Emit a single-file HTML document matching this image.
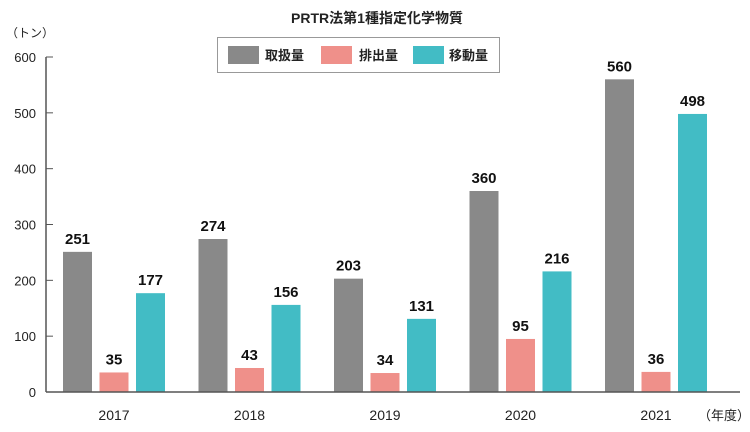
<!DOCTYPE html>
<html><head><meta charset="utf-8"><style>
html,body{margin:0;padding:0;background:#fff;}
svg{display:block;font-family:"Liberation Sans","Noto Sans CJK JP",sans-serif;}
</style></head><body>
<svg id="chart" width="750" height="432" viewBox="0 0 750 432">
<text x="377" y="23" text-anchor="middle" font-size="14" font-weight="bold" fill="#222">PRTR法第1種指定化学物質</text>
<text x="6" y="37" font-size="12" fill="#222">（トン）</text>
<text x="698" y="420" font-size="13" fill="#222">（年度）</text>
<g>
<rect x="217.5" y="37.5" width="282" height="35" fill="#fff" stroke="#999"/>
<rect x="228" y="46" width="31" height="18" fill="#898989"/>
<text x="265" y="60" font-size="13" font-weight="bold" fill="#222">取扱量</text>
<rect x="321" y="46" width="31" height="18" fill="#ef908a"/>
<text x="359" y="60" font-size="13" font-weight="bold" fill="#222">排出量</text>
<rect x="413" y="46" width="31" height="18" fill="#42bcc5"/>
<text x="449" y="60" font-size="13" font-weight="bold" fill="#222">移動量</text>
</g>
<g id="plot"></g>
</svg>
<script>
const categories = ["2017","2018","2019","2020","2021"];
const handled = [251,274,203,360,560];
const emitted = [35,43,34,95,36];
const transferred = [177,156,131,216,498];
const yTicks = [0,100,200,300,400,500,600];

const ns = "http://www.w3.org/2000/svg";
const g = document.getElementById("plot");
const y0 = 392, yTop = 57, yMax = 600;
const yScale = v => y0 - (v / yMax) * (y0 - yTop);
const x0 = 46, groupW = 135.5, firstCenter = 114;
const xCenter = i => firstCenter + i * groupW;
function mk(tag, attrs){const e=document.createElementNS(ns,tag);for(const k in attrs)e.setAttribute(k,attrs[k]);g.appendChild(e);return e;}

yTicks.forEach(t=>{
  const y=yScale(t);
  const tl=mk("line",{x1:x0,x2:x0+7,y1:y,y2:y,stroke:"#555"});
  
  
  const tx=mk("text",{x:36,y:y+5,"text-anchor":"end","font-size":"13",fill:"#222"});
  tx.textContent=t;
  
  
});
const ya=mk("line",{x1:x0,x2:x0,y1:yTop,y2:y0,stroke:"#555","stroke-width":1.5});



const series=[{d:handled,c:"#898989",off:-36.5,n:"handled"},{d:emitted,c:"#ef908a",off:0,n:"emitted"},{d:transferred,c:"#42bcc5",off:36.5,n:"transferred"}];
const bw=29;
categories.forEach((cat,i)=>{
  series.forEach(s=>{
    const v=s.d[i], cx=xCenter(i)+s.off, y=yScale(v);
    const r=mk("rect",{x:cx-bw/2,y:y,width:bw,height:y0-y,fill:s.c});
    
    
    const t=mk("text",{x:cx,y:y-8,"text-anchor":"middle","font-size":"15","font-weight":"bold",fill:"#111"});
    t.textContent=v;
    
    
  });
  const xl=mk("text",{x:xCenter(i),y:420,"text-anchor":"middle","font-size":"14",fill:"#222"});
  xl.textContent=cat;
  
  
});
const xa=mk("line",{x1:x0,x2:740,y1:y0,y2:y0,stroke:"#555","stroke-width":1.5});


</script>
</body></html>
